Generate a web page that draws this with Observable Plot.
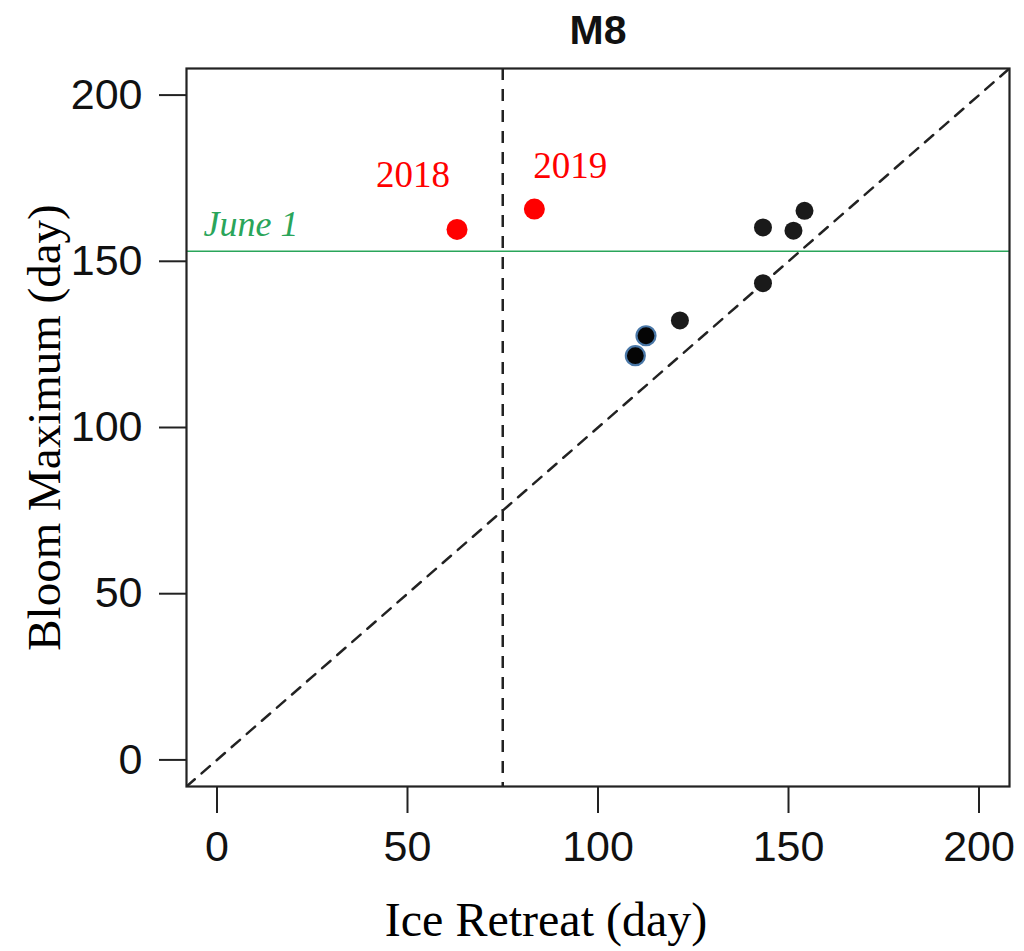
<!DOCTYPE html>
<html>
<head>
<meta charset="utf-8">
<script src="https://cdn.jsdelivr.net/npm/d3@7"></script>
<script src="https://cdn.jsdelivr.net/npm/@observablehq/plot@0.6"></script>
<style>
  html, body { margin: 0; padding: 0; background: #fff; }
</style>
</head>
<body>
<div id="chart"></div>
<script>
// ---- data ----
const title = "M8";
const xLabel = "Ice Retreat (day)";
const yLabel = "Bloom Maximum (day)";
const ticks = [0, 50, 100, 150, 200];
const domain = [-8, 208];

// black points (ice retreat day, bloom max day)
const blackX = [121.5, 143.3, 143.3, 151.3, 154.2];
const blackY = [132.2, 143.4, 160.2, 159.2, 165.2];
// black points with blue outline
const outlinedX = [109.8, 112.6];
const outlinedY = [121.6, 127.6];
// highlighted years
const redYears = ["2018", "2019"];
const redX = [63.0, 83.3];
const redY = [159.6, 165.7];

const june1Day = 153;
const june1Label = "June 1";
const thresholdX = 75;
const oneToOne = [-8, 208];

// ---- build tables ----
const black = blackX.map((x, i) => ({x, y: blackY[i]}));
const outlined = outlinedX.map((x, i) => ({x, y: outlinedY[i]}));
const red = redYears.map((year, i) => ({year, x: redX[i], y: redY[i]}));
const diag = oneToOne.map(v => ({x: v, y: v}));

const sans = "'Liberation Sans', Arial, Helvetica, sans-serif";
const serif = "'Liberation Serif', 'Times New Roman', serif";

const plot = Plot.plot({
  width: 1024,
  height: 951,
  marginLeft: 186,
  marginRight: 15,
  marginTop: 68,
  marginBottom: 165,
  style: {fontFamily: sans, fontSize: "43px", color: "#111", background: "#fff"},
  x: {domain, ticks},
  y: {domain, ticks},
  marks: [
    Plot.axisX(ticks, {tickSize: 27, tickPadding: 17, fontSize: 43, fontFamily: sans, stroke: "#222", strokeWidth: 2, fill: "#111", label: null}),
    Plot.axisY(ticks, {tickSize: 27, tickPadding: 17, fontSize: 43, fontFamily: sans, stroke: "#222", strokeWidth: 2, fill: "#111", label: null}),
    Plot.line(diag, {x: "x", y: "y", stroke: "#222", strokeWidth: 2.5, strokeDasharray: "11,9", clip: true}),
    Plot.ruleX([thresholdX], {stroke: "#222", strokeWidth: 2.5, strokeDasharray: "12,9"}),
    Plot.ruleY([june1Day], {stroke: "#2aa55a", strokeWidth: 1.6}),
    Plot.text([june1Label], {frameAnchor: "left", y: () => june1Day, dx: 17, dy: -15, lineAnchor: "bottom", textAnchor: "start", fill: "#2aa55a", fontFamily: serif, fontStyle: "italic", fontSize: 36}),
    Plot.dot(black, {x: "x", y: "y", r: 9, fill: "#1a1a1a"}),
    Plot.dot(outlined, {x: "x", y: "y", r: 9.5, fill: "#050505", stroke: "#4a78a8", strokeWidth: 2.2}),
    Plot.dot(red, {x: "x", y: "y", r: 10.5, fill: "#ff0000"}),
    Plot.text(red.filter(d => d.year === "2018"), {x: "x", y: "y", text: "year", dx: -44, dy: -42, lineAnchor: "bottom", fill: "#ff0000", fontFamily: serif, fontSize: 37}),
    Plot.text(red.filter(d => d.year === "2019"), {x: "x", y: "y", text: "year", dx: 36, dy: -31, lineAnchor: "bottom", fill: "#ff0000", fontFamily: serif, fontSize: 37}),
    Plot.frame({stroke: "#222", strokeWidth: 2.2}),
    Plot.text([title], {frameAnchor: "top", dy: -25, lineAnchor: "bottom", fontFamily: sans, fontWeight: "bold", fontSize: 41, fill: "#111"}),
    Plot.text([xLabel], {frameAnchor: "bottom", dx: -52, dy: 149, lineAnchor: "bottom", textAnchor: "middle", fontFamily: serif, fontSize: 48, fill: "#000"}),
    Plot.text([yLabel], {frameAnchor: "left", dx: -127, rotate: -90, lineAnchor: "bottom", textAnchor: "middle", fontFamily: serif, fontSize: 47, fill: "#000"})
  ]
});
document.getElementById("chart").appendChild(plot);
</script>
</body>
</html>
